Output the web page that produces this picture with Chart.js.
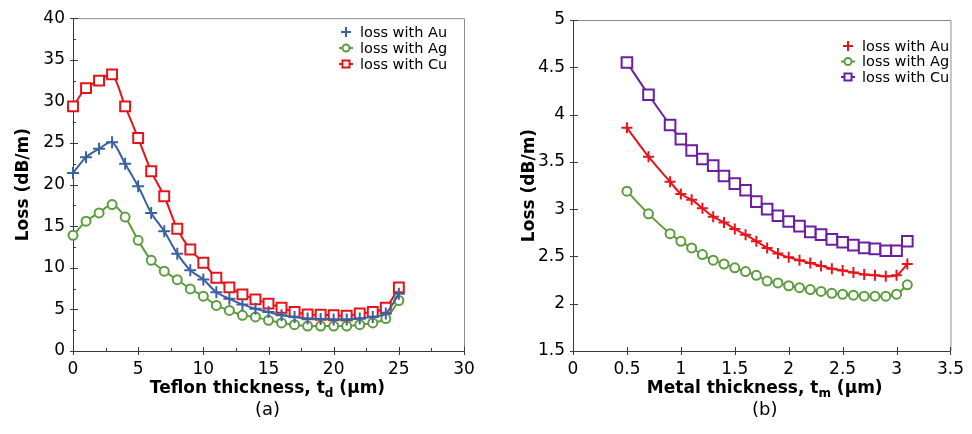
<!DOCTYPE html>
<html>
<head>
<meta charset="utf-8">
<script src="https://cdn.jsdelivr.net/npm/chart.js@4/dist/chart.umd.min.js"></script>
<style>
  html, body { margin: 0; padding: 0; background: #fff; }
  #wrap { position: relative; width: 972px; height: 434px; overflow: hidden; }
  canvas { position: absolute; top: 0; }
  #c1 { left: 0; }
  #c2 { left: 486px; }
</style>
</head>
<body>
<div id="wrap">
  <canvas id="c1" width="486" height="434"></canvas>
  <canvas id="c2" width="486" height="434"></canvas>
</div>
<script>
// (a) loss versus Teflon thickness
const teflonThickness = [0, 1, 2, 3, 4, 5, 6, 7, 8, 9, 10, 11, 12, 13, 14, 15, 16, 17, 18, 19, 20, 21, 22, 23, 24, 25];
const lossAuTeflon = [21.4, 23.3, 24.3, 25.1, 22.5, 19.8, 16.6, 14.4, 11.7, 9.7, 8.6, 7.06, 6.27, 5.6, 5.08, 4.68, 4.3, 4.09, 3.9, 3.85, 3.8, 3.8, 3.9, 4.1, 4.5, 6.87];
const lossAgTeflon = [13.9, 15.6, 16.6, 17.6, 16.1, 13.3, 10.9, 9.6, 8.57, 7.46, 6.59, 5.48, 4.88, 4.29, 4.09, 3.69, 3.37, 3.17, 3.0, 3.0, 3.0, 3.0, 3.17, 3.37, 3.9, 6.07];
const lossCuTeflon = [29.4, 31.6, 32.5, 33.25, 29.4, 25.6, 21.6, 18.6, 14.7, 12.2, 10.6, 8.8, 7.65, 6.8, 6.2, 5.7, 5.2, 4.7, 4.4, 4.35, 4.3, 4.25, 4.5, 4.7, 5.2, 7.65];

// (b) loss versus metal thickness
const metalThickness = [0.5, 0.7, 0.9, 1.0, 1.1, 1.2, 1.3, 1.4, 1.5, 1.6, 1.7, 1.8, 1.9, 2.0, 2.1, 2.2, 2.3, 2.4, 2.5, 2.6, 2.7, 2.8, 2.9, 3.0, 3.1];
const lossAuMetal = [3.86, 3.555, 3.29, 3.16, 3.10, 3.01, 2.92, 2.86, 2.79, 2.73, 2.66, 2.59, 2.53, 2.49, 2.46, 2.43, 2.40, 2.37, 2.35, 2.33, 2.31, 2.30, 2.29, 2.30, 2.42];
const lossAgMetal = [3.19, 2.95, 2.74, 2.66, 2.59, 2.52, 2.46, 2.42, 2.38, 2.34, 2.30, 2.24, 2.22, 2.19, 2.17, 2.15, 2.13, 2.11, 2.10, 2.09, 2.08, 2.08, 2.08, 2.10, 2.20];
const lossCuMetal = [4.55, 4.21, 3.89, 3.74, 3.62, 3.53, 3.46, 3.35, 3.27, 3.20, 3.08, 3.00, 2.93, 2.87, 2.82, 2.76, 2.73, 2.68, 2.65, 2.62, 2.59, 2.58, 2.56, 2.56, 2.66];

const seriesNames = ['loss with Au', 'loss with Ag', 'loss with Cu'];
const FONT = '"DejaVu Sans", "Liberation Sans", Arial, sans-serif';

const toPoints = (xs, ys) => xs.map((x, i) => ({ x: x, y: ys[i] }));

// frame, inward/crossing tick marks
const axisDecor = {
  id: 'axisDecor',
  beforeDatasetsDraw(chart, args, o) {
    const { ctx, chartArea: a, scales: { x, y } } = chart;
    ctx.save();
    ctx.lineWidth = 1;
    ctx.strokeStyle = '#8c8c8c';
    ctx.beginPath();
    ctx.moveTo(a.left, a.top + 0.5);
    ctx.lineTo(a.right + 0.5, a.top + 0.5);
    ctx.lineTo(a.right + 0.5, a.bottom);
    ctx.stroke();
    ctx.strokeStyle = '#3a3a3a';
    ctx.beginPath();
    ctx.moveTo(a.left + 0.5, a.top);
    ctx.lineTo(a.left + 0.5, a.bottom + 0.5);
    ctx.lineTo(a.right, a.bottom + 0.5);
    ctx.stroke();

    ctx.beginPath();
    const xt = x.ticks.map(t => t.value);
    const yt = y.ticks.map(t => t.value);
    xt.forEach(v => {
      const p = Math.round(x.getPixelForValue(v)) + 0.5;
      ctx.moveTo(p, a.bottom - 4); ctx.lineTo(p, a.bottom + 4);
    });
    yt.forEach(v => {
      const p = Math.round(y.getPixelForValue(v)) + 0.5;
      ctx.moveTo(a.left - 3, p); ctx.lineTo(a.left + 5, p);
    });
    if (o.minor) {
      for (let i = 0; i < xt.length - 1; i++) {
        const p = Math.round(x.getPixelForValue((xt[i] + xt[i + 1]) / 2)) + 0.5;
        ctx.moveTo(p, a.bottom - 3); ctx.lineTo(p, a.bottom);
      }
      for (let i = 0; i < yt.length - 1; i++) {
        const p = Math.round(y.getPixelForValue((yt[i] + yt[i + 1]) / 2)) + 0.5;
        ctx.moveTo(a.left, p); ctx.lineTo(a.left + 3, p);
      }
    }
    ctx.stroke();
    ctx.restore();
  }
};

// x-axis title with subscript, and panel caption
const xTitle = {
  id: 'xTitle',
  afterDraw(chart, args, o) {
    const { ctx, chartArea: a } = chart;
    const cx = (a.left + a.right) / 2 + (o.shift || 0);
    const big = 'bold 17px ' + FONT;
    const small = 'bold 12px ' + FONT;
    ctx.save();
    ctx.fillStyle = '#000';
    ctx.textBaseline = 'alphabetic';
    ctx.textAlign = 'left';
    ctx.font = big;
    const w1 = ctx.measureText(o.main).width;
    const w3 = ctx.measureText(o.tail).width;
    ctx.font = small;
    const w2 = ctx.measureText(o.sub).width;
    const x0 = cx - (w1 + w2 + w3) / 2;
    ctx.font = big;
    ctx.fillText(o.main, x0, o.baseline);
    ctx.font = small;
    ctx.fillText(o.sub, x0 + w1, o.baseline + 4);
    ctx.font = big;
    ctx.fillText(o.tail, x0 + w1 + w2, o.baseline);
    ctx.font = '18px ' + FONT;
    ctx.textAlign = 'center';
    ctx.fillText(o.caption, cx, o.captionBaseline);
    ctx.restore();
  }
};

// legend inside the plot area (top right)
const innerLegend = {
  id: 'innerLegend',
  afterDraw(chart, args, o) {
    const { ctx } = chart;
    ctx.save();
    chart.data.datasets.forEach((ds, i) => {
      const cy = o.y + i * o.dy;
      ctx.strokeStyle = ds.borderColor;
      ctx.lineWidth = 2;
      if (ds.pointStyle !== 'cross') {
        ctx.beginPath();
        ctx.moveTo(o.x - 7, cy); ctx.lineTo(o.x + 7, cy);
        ctx.stroke();
      }
      ctx.fillStyle = '#fff';
      Chart.helpers.drawPoint(ctx, { pointStyle: ds.pointStyle, radius: ds.legendRadius, rotation: 0, borderWidth: 2 }, o.x, cy);
      ctx.fillStyle = '#000';
      ctx.font = '14.5px ' + FONT;
      ctx.textAlign = 'left';
      ctx.textBaseline = 'middle';
      ctx.fillText(ds.label, o.x + 14, cy + 1);
    });
    ctx.restore();
  }
};

function makeDataset(label, xs, ys, color, style, radius, legendRadius) {
  return {
    label: label,
    data: toPoints(xs, ys),
    borderColor: color,
    backgroundColor: color,
    pointBorderColor: color,
    pointBackgroundColor: '#fff',
    pointStyle: style,
    pointRadius: radius,
    pointBorderWidth: 2,
    borderWidth: 2,
    tension: 0.3,
    fill: false,
    clip: false,
    legendRadius: legendRadius
  };
}

const plainNumber = v => String(Math.round(v * 100) / 100);

function makeOptions(cfg) {
  return {
    responsive: false,
    animation: false,
    devicePixelRatio: 1,
    layout: { padding: cfg.padding },
    plugins: {
      legend: { display: false },
      tooltip: { enabled: false },
      axisDecor: { minor: cfg.minor },
      xTitle: cfg.xTitle,
      innerLegend: cfg.legend
    },
    scales: {
      x: {
        type: 'linear',
        min: cfg.xMin, max: cfg.xMax,
        afterFit: s => { s.height = cfg.xHeight; },
        grid: { display: false, drawTicks: false },
        border: { display: false },
        ticks: { stepSize: cfg.xStep, padding: 8, color: '#000', font: { family: FONT, size: 17 }, maxRotation: 0, callback: plainNumber }
      },
      y: {
        type: 'linear',
        min: cfg.yMin, max: cfg.yMax,
        afterFit: s => { s.width = cfg.yWidth; },
        grid: { display: false, drawTicks: false },
        border: { display: false },
        ticks: { stepSize: cfg.yStep, padding: 8, color: '#000', font: { family: FONT, size: 17 }, callback: plainNumber },
        title: {
          display: true,
          text: 'Loss (dB/m)',
          color: '#000',
          font: { family: FONT, size: 17, weight: 'bold' },
          padding: { top: cfg.yTitlePad, bottom: 0 }
        }
      }
    }
  };
}

new Chart(document.getElementById('c1'), {
  type: 'line',
  data: {
    datasets: [
      makeDataset(seriesNames[0], teflonThickness, lossAuTeflon, '#3b62a0', 'cross', 6, 5),
      makeDataset(seriesNames[1], teflonThickness, lossAgTeflon, '#5e9c40', 'circle', 4.5, 3.5),
      makeDataset(seriesNames[2], teflonThickness, lossCuTeflon, '#e3141b', 'rect', 7, 5)
    ]
  },
  options: makeOptions({
    padding: { top: 15, right: 22, left: 0, bottom: 0 },
    xMin: 0, xMax: 30, xStep: 5, yMin: 0, yMax: 40, yStep: 5,
    xHeight: 83, yWidth: 73, yTitlePad: 13, minor: true,
    xTitle: { main: 'Teflon thickness, t', sub: 'd', tail: ' (\u03bcm)', caption: '(a)', baseline: 393, captionBaseline: 415, shift: -1 },
    legend: { x: 346, y: 32, dy: 16 }
  }),
  plugins: [axisDecor, xTitle, innerLegend]
});

new Chart(document.getElementById('c2'), {
  type: 'line',
  data: {
    datasets: [
      makeDataset(seriesNames[0], metalThickness, lossAuMetal, '#e8141c', 'cross', 5.5, 5),
      makeDataset(seriesNames[1], metalThickness, lossAgMetal, '#5e9c40', 'circle', 4.5, 3.5),
      makeDataset(seriesNames[2], metalThickness, lossCuMetal, '#6a1fa0', 'rect', 7.5, 5)
    ]
  },
  options: makeOptions({
    padding: { top: 20, right: 13, left: 0, bottom: 0 },
    xMin: 0, xMax: 3.5, xStep: 0.5, yMin: 1.5, yMax: 5, yStep: 0.5,
    xHeight: 83, yWidth: 87, yTitlePad: 33, minor: false,
    xTitle: { main: 'Metal thickness, t', sub: 'm', tail: ' (\u03bcm)', caption: '(b)', baseline: 393, captionBaseline: 415, shift: 3 },
    legend: { x: 362, y: 46, dy: 15.5 }
  }),
  plugins: [axisDecor, xTitle, innerLegend]
});
</script>
</body>
</html>
